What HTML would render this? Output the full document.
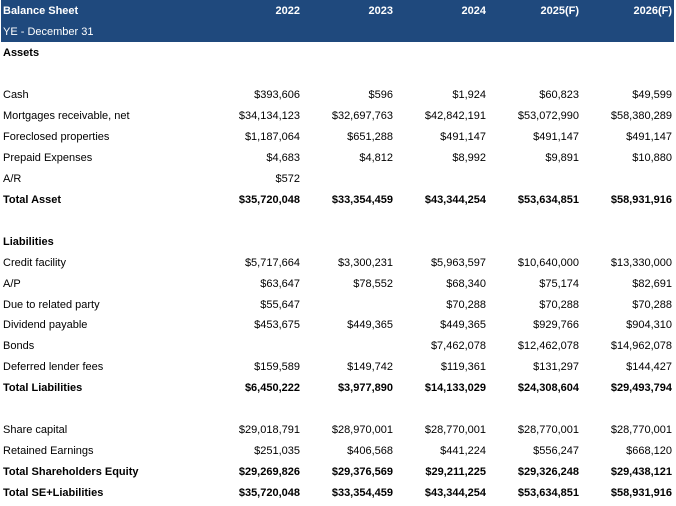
<!DOCTYPE html>
<html>
<head>
<meta charset="utf-8">
<style>
  html,body{margin:0;padding:0;background:#fff;}
  body{width:676px;height:506px;position:relative;overflow:hidden;
       font-family:"Liberation Sans",Arial,sans-serif;font-size:11px;color:#000;}
  .hdr{position:absolute;left:1px;top:0;width:673px;height:42px;background:#1F497D;}
  .r{position:absolute;left:0;width:676px;height:21px;line-height:21px;white-space:nowrap;}
  .r span{position:absolute;top:0;}
  .l{left:3px;}
  .c1,.c2,.c3,.c4,.c5{width:100px;text-align:right;}
  .c1{left:200px;} .c2{left:293px;} .c3{left:386px;} .c4{left:479px;} .c5{left:572px;}
  .b{font-weight:bold;}
  .w{color:#fff;}
</style>
</head>
<body>
<div class="hdr"></div>

<div class="r b w" style="top:1px"><span class="l">Balance Sheet</span><span class="c1">2022</span><span class="c2">2023</span><span class="c3">2024</span><span class="c4">2025(F)</span><span class="c5">2026(F)</span></div>
<div class="r w" style="top:22px"><span class="l">YE - December 31</span></div>
<div class="r b" style="top:43px"><span class="l">Assets</span></div>

<div class="r" style="top:85px"><span class="l">Cash</span><span class="c1">$393,606</span><span class="c2">$596</span><span class="c3">$1,924</span><span class="c4">$60,823</span><span class="c5">$49,599</span></div>
<div class="r" style="top:106px"><span class="l">Mortgages receivable, net</span><span class="c1">$34,134,123</span><span class="c2">$32,697,763</span><span class="c3">$42,842,191</span><span class="c4">$53,072,990</span><span class="c5">$58,380,289</span></div>
<div class="r" style="top:127px"><span class="l">Foreclosed properties</span><span class="c1">$1,187,064</span><span class="c2">$651,288</span><span class="c3">$491,147</span><span class="c4">$491,147</span><span class="c5">$491,147</span></div>
<div class="r" style="top:148px"><span class="l">Prepaid Expenses</span><span class="c1">$4,683</span><span class="c2">$4,812</span><span class="c3">$8,992</span><span class="c4">$9,891</span><span class="c5">$10,880</span></div>
<div class="r" style="top:169px"><span class="l">A/R</span><span class="c1">$572</span></div>
<div class="r b" style="top:190px"><span class="l">Total Asset</span><span class="c1">$35,720,048</span><span class="c2">$33,354,459</span><span class="c3">$43,344,254</span><span class="c4">$53,634,851</span><span class="c5">$58,931,916</span></div>

<div class="r b" style="top:232px"><span class="l">Liabilities</span></div>
<div class="r" style="top:253px"><span class="l">Credit facility</span><span class="c1">$5,717,664</span><span class="c2">$3,300,231</span><span class="c3">$5,963,597</span><span class="c4">$10,640,000</span><span class="c5">$13,330,000</span></div>
<div class="r" style="top:274px"><span class="l">A/P</span><span class="c1">$63,647</span><span class="c2">$78,552</span><span class="c3">$68,340</span><span class="c4">$75,174</span><span class="c5">$82,691</span></div>
<div class="r" style="top:295px"><span class="l">Due to related party</span><span class="c1">$55,647</span><span class="c3">$70,288</span><span class="c4">$70,288</span><span class="c5">$70,288</span></div>
<div class="r" style="top:315px"><span class="l">Dividend payable</span><span class="c1">$453,675</span><span class="c2">$449,365</span><span class="c3">$449,365</span><span class="c4">$929,766</span><span class="c5">$904,310</span></div>
<div class="r" style="top:336px"><span class="l">Bonds</span><span class="c3">$7,462,078</span><span class="c4">$12,462,078</span><span class="c5">$14,962,078</span></div>
<div class="r" style="top:357px"><span class="l">Deferred lender fees</span><span class="c1">$159,589</span><span class="c2">$149,742</span><span class="c3">$119,361</span><span class="c4">$131,297</span><span class="c5">$144,427</span></div>
<div class="r b" style="top:378px"><span class="l">Total Liabilities</span><span class="c1">$6,450,222</span><span class="c2">$3,977,890</span><span class="c3">$14,133,029</span><span class="c4">$24,308,604</span><span class="c5">$29,493,794</span></div>

<div class="r" style="top:420px"><span class="l">Share capital</span><span class="c1">$29,018,791</span><span class="c2">$28,970,001</span><span class="c3">$28,770,001</span><span class="c4">$28,770,001</span><span class="c5">$28,770,001</span></div>
<div class="r" style="top:441px"><span class="l">Retained Earnings</span><span class="c1">$251,035</span><span class="c2">$406,568</span><span class="c3">$441,224</span><span class="c4">$556,247</span><span class="c5">$668,120</span></div>
<div class="r b" style="top:462px"><span class="l">Total Shareholders Equity</span><span class="c1">$29,269,826</span><span class="c2">$29,376,569</span><span class="c3">$29,211,225</span><span class="c4">$29,326,248</span><span class="c5">$29,438,121</span></div>
<div class="r b" style="top:483px"><span class="l">Total SE+Liabilities</span><span class="c1">$35,720,048</span><span class="c2">$33,354,459</span><span class="c3">$43,344,254</span><span class="c4">$53,634,851</span><span class="c5">$58,931,916</span></div>
</body>
</html>
